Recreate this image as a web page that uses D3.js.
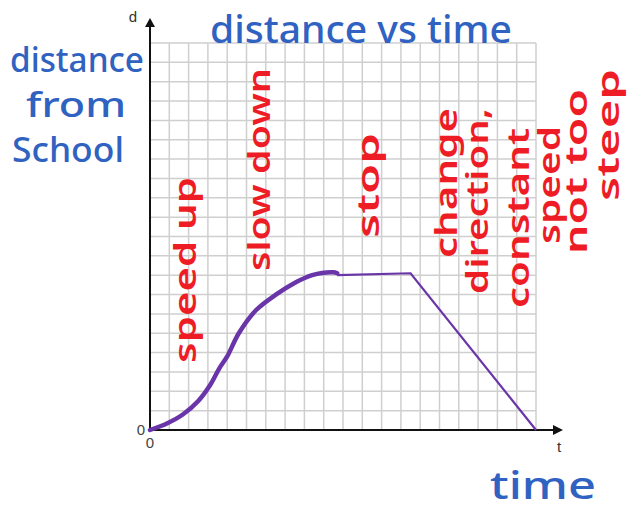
<!DOCTYPE html>
<html>
<head>
<meta charset="utf-8">
<script src="https://cdn.jsdelivr.net/npm/d3@7"></script>
<style>
	body { margin: 0; background: #fff; }
	svg { display: block; }
</style>
</head>
<body>
<div id="graph"></div>
<script>
// grid is 20 x 20 units, time along, distance up
var gridTicks = d3.range(0, 21);
// thick hand drawn part: speed up then slow down
var curveTime = [0, 0.9, 1.7, 2.5, 3.1, 3.6, 4.0, 4.6, 5.5, 6.6, 7.4, 8.4, 9.5, 9.7];
var curveDist = [0, 0.35, 0.8, 1.5, 2.3, 3.2, 3.8, 5.0, 6.2, 7.05, 7.55, 8.0, 8.15, 8.1];
// thin ruled part: stop, then back to school
var lineTime = [9.7, 13.5, 20];
var lineDist = [8.0, 8.1, 0];

var titleText = "distance vs time";
var yLabelLines = ["distance", "from", "School"];
var xLabelText = "time";
var notes = ["speed up", "slow down", "stop", "change", "direction,", "constant", "speed", "not too", "steep"];

var W = 631, H = 510;
var svg = d3.select("#graph").append("svg")
	.attr("width", W)
	.attr("height", H);

var x = d3.scaleLinear().domain([0, 20]).range([150, 536]);
var y = d3.scaleLinear().domain([0, 20]).range([430, 43]);

// grid
svg.append("g").selectAll("line").data(gridTicks)
	.enter().append("line")
	.attr("x1", function (d) { return x(d); })
	.attr("x2", function (d) { return x(d); })
	.attr("y1", y(0))
	.attr("y2", y(20))
	.attr("stroke", "#cfcfcf")
	.attr("stroke-width", 1.5);
svg.append("g").selectAll("line").data(gridTicks)
	.enter().append("line")
	.attr("y1", function (d) { return y(d); })
	.attr("y2", function (d) { return y(d); })
	.attr("x1", x(0))
	.attr("x2", x(20))
	.attr("stroke", "#cfcfcf")
	.attr("stroke-width", 1.5);

// axes with arrows
svg.append("line")
	.attr("x1", x(0)).attr("y1", y(0))
	.attr("x2", x(0)).attr("y2", 24)
	.attr("stroke", "#111").attr("stroke-width", 2);
svg.append("path")
	.attr("d", "M" + x(0) + ",18 L" + (x(0) - 5) + ",27 L" + (x(0) + 5) + ",27 Z")
	.attr("fill", "#111");
svg.append("line")
	.attr("x1", x(0)).attr("y1", y(0))
	.attr("x2", 556).attr("y2", y(0))
	.attr("stroke", "#111").attr("stroke-width", 2);
svg.append("path")
	.attr("d", "M563," + y(0) + " L553," + (y(0) - 5) + " L553," + (y(0) + 5) + " Z")
	.attr("fill", "#111");

var axisFont = "Liberation Sans, Arial, sans-serif";
svg.append("text").attr("x", 133).attr("y", 22).attr("text-anchor", "middle")
	.attr("font-family", axisFont).attr("font-size", 15).attr("fill", "#333").text("d");
svg.append("text").attr("x", 559).attr("y", 452).attr("text-anchor", "middle")
	.attr("font-family", axisFont).attr("font-size", 15).attr("fill", "#333").text("t");
svg.append("text").attr("x", 141).attr("y", 435).attr("text-anchor", "middle")
	.attr("font-family", axisFont).attr("font-size", 15).attr("fill", "#444").text("0");
svg.append("text").attr("x", x(0)).attr("y", 448).attr("text-anchor", "middle")
	.attr("font-family", axisFont).attr("font-size", 15).attr("fill", "#444").text("0");

// motion line
var purple = "#6a35a8";
var pts = curveTime.map(function (t, i) { return [t, curveDist[i]]; });
var thin = lineTime.map(function (t, i) { return [t, lineDist[i]]; });
var line = d3.line()
	.x(function (d) { return x(d[0]); })
	.y(function (d) { return y(d[1]); });
svg.append("path")
	.attr("d", line(thin))
	.attr("fill", "none")
	.attr("stroke", purple)
	.attr("stroke-width", 2.2);
svg.append("path")
	.attr("d", line.curve(d3.curveCatmullRom)(pts))
	.attr("fill", "none")
	.attr("stroke", purple)
	.attr("stroke-width", 4.5)
	.attr("stroke-linecap", "round")
	.attr("stroke-linejoin", "round");

// blue handwriting
var blue = "#2f62c1";
var handFont = "Noto Sans, DejaVu Sans, sans-serif";
function blueText(txt, x0, base, len, size) {
	svg.append("text")
		.attr("x", x0).attr("y", base)
		.attr("font-family", handFont)
		.attr("font-size", size)
		.attr("font-weight", 500)
		.attr("fill", blue)
		.attr("textLength", len)
		.attr("lengthAdjust", "spacingAndGlyphs")
		.text(txt);
}
blueText(titleText, 210, 43, 302, 38);
blueText(yLabelLines[0], 10, 72, 134, 34);
blueText(yLabelLines[1], 26, 117, 100, 34);
blueText(yLabelLines[2], 12, 162, 112, 34);
blueText(xLabelText, 490, 499, 106, 38);

// red vertical notes, read bottom to top
var red = "#ee1c25";
var noteLayout = [
	[185, 363, 177],
	[259, 271, 68],
	[368, 238, 133],
	[446, 258, 108],
	[477, 294, 108],
	[518, 308, 128],
	[549, 244, 126],
	[576, 254, 89],
	[608, 201, 69]
];
noteLayout.forEach(function (p, i) {
	svg.append("text")
		.attr("transform", "translate(" + p[0] + "," + p[1] + ") rotate(-90)")
		.attr("x", 0).attr("y", 0)
		.attr("dy", "0.35em")
		.attr("font-family", handFont)
		.attr("font-size", 30)
		.attr("font-weight", 600)
		.attr("fill", red)
		.attr("textLength", p[1] - p[2])
		.attr("lengthAdjust", "spacingAndGlyphs")
		.text(notes[i]);
});
</script>
</body>
</html>
